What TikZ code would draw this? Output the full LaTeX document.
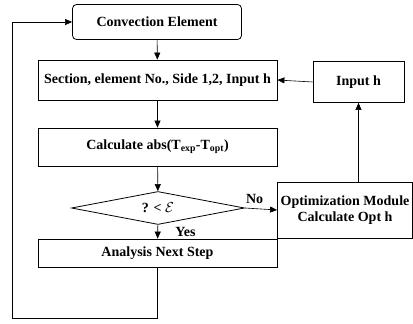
\documentclass[tikz,border=0pt]{standalone}
\usepackage{fontspec}
\setmainfont{Liberation Serif}
\usepackage{tikz}
\usetikzlibrary{positioning,arrows.meta,shapes.geometric}

\begin{document}
\begin{tikzpicture}[x=1pt,y=-1pt,
    every node/.style={font=\bfseries\fontsize{14}{16}\selectfont},
    box/.style={draw, line width=0.8pt, inner sep=2pt, align=center},
    ar/.style={-{Triangle[length=7pt,width=6pt]},line width=0.6pt}]
  \useasboundingbox (0,0) rectangle (413,324);
  % main column
  \node[box, rounded corners=4pt, minimum width=169pt, minimum height=35pt]
    (conv) at (157,22) {Convection Element};
  \node[box, minimum width=239pt, minimum height=40pt]
    (sect) at (157.5,80) {Section, element No., Side 1,2, Input h};
  \node[box, minimum width=239pt, minimum height=38pt]
    (calc) at (157.5,147) {Calculate abs(T\textsubscript{exp}-T\textsubscript{opt})};
  \node[box, diamond, aspect=5.2, inner sep=0pt, minimum width=173pt, minimum height=33pt]
    (dec) at (158,208) {? < $\mathcal{E}$};
  \node[box, minimum width=239pt, minimum height=28pt]
    (ana) at (157.5,253) {Analysis Next Step};
  % right column
  \node[box, minimum width=91pt, minimum height=41pt]
    (inp) at (358.5,82) {Input h};
  \node[box, minimum width=135pt, minimum height=56pt]
    (opt) at (345,210) {Optimization Module\\Calculate Opt h};
  \coordinate (lp) at (12,318);
  \draw[ar](conv)--(sect); \draw[ar](sect)--(calc); \draw[ar](calc)--(dec);
  \draw[ar](dec)--node[right=14pt]{Yes}(ana);
  \draw[ar](dec.east)--node[above=1pt,pos=0.3]{No}(opt.west);
  \draw[ar](opt.north -| inp.south)--(inp.south);
  \draw[ar](inp.west)--(sect.east);
  \draw[ar](ana.south)|-(lp)|-(conv.west);
\end{tikzpicture}
\end{document}
